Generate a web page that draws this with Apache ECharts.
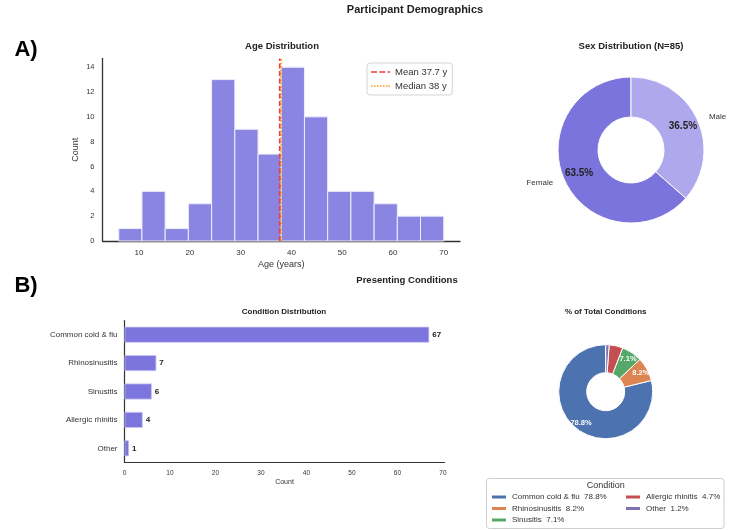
<!DOCTYPE html>
<html><head><meta charset="utf-8">
<script src="https://cdn.jsdelivr.net/npm/echarts@6/dist/echarts.min.js"></script>
<style>html,body{margin:0;padding:0;background:#fff}#c{width:740px;height:530px}</style>
</head><body><div id="c"></div>
<script>
// ---- data ----
const ageBinEdges = [6, 10.57, 15.14, 19.71, 24.29, 28.86, 33.43, 38, 42.57, 47.14, 51.71, 56.29, 60.86, 65.43, 70];
const ageCounts = [1, 4, 1, 3, 13, 9, 7, 14, 10, 4, 4, 3, 2, 2];
const meanAge = 37.7;
const medianAge = 38;
const ageTicks = [10, 20, 30, 40, 50, 60, 70];
const countTicks = [0, 2, 4, 6, 8, 10, 12, 14];

const sexNames = ['Female', 'Male'];
const sexCounts = [54, 31];

const conditionNames = ['Common cold & flu', 'Rhinosinusitis', 'Sinusitis', 'Allergic rhinitis', 'Other'];
const conditionCounts = [67, 7, 6, 4, 1];
const conditionTicks = [0, 10, 20, 30, 40, 50, 60, 70];

// ---- styles ----
const FONT = '"Liberation Sans", Arial, sans-serif';
const NARROW = '"Liberation Sans Narrow", "Liberation Sans", sans-serif';
const sexColors = ['#7b74dc', '#b0a8ec'];
const condColors = ['#4c72b0', '#dd8452', '#55a868', '#c44e52', '#8172b3'];
const condTotal = conditionCounts.reduce((a, b) => a + b, 0);
const sexTotal = sexCounts.reduce((a, b) => a + b, 0);
const pct = (v, t) => (v / t * 100).toFixed(1) + '%';
const meanName = 'Mean ' + meanAge + ' y';
const medianName = 'Median ' + medianAge + ' y';
const ageYMax = 14.7;
const dashIcon = 'path://M0,0h6v1.6h-6zM8.3,0h6v1.6h-6zM16.6,0h2.4v1.6h-2.4z';
const dotIcon = 'path://M0,0h1.6v1.6h-1.6zM3,0h1.6v1.6h-1.6zM6,0h1.6v1.6h-1.6zM9,0h1.6v1.6h-1.6zM12,0h1.6v1.6h-1.6zM15,0h1.6v1.6h-1.6zM17.4,0h1.6v1.6h-1.6z';

const chart = echarts.init(document.getElementById('c'), null, {renderer: 'canvas'});

function txt(x, y, text, size, bold, family, color) {
  return {
    type: 'text', x: x, y: y,
    style: {text: text, fontSize: size, fontWeight: bold ? 'bold' : 'normal', fontFamily: family || FONT,
      fill: color || '#222', align: 'center', verticalAlign: 'middle'}
  };
}

const option = {
  backgroundColor: '#fff',
  animation: false,
  textStyle: {fontFamily: FONT},
  graphic: [
    txt(415, 10, 'Participant Demographics', 11, true),
    txt(26, 50, 'A)', 22, true, NARROW, '#000'),
    txt(26, 286, 'B)', 22, true, NARROW, '#000'),
    txt(282, 46, 'Age Distribution', 9.5, true),
    txt(631, 46, 'Sex Distribution (N=' + sexTotal + ')', 9.5, true),
    txt(407, 280.5, 'Presenting Conditions', 9.5, true),
    txt(284, 311.5, 'Condition Distribution', 8, true),
    txt(605.7, 311.5, '% of Total Conditions', 8, true),
    {type: 'rect', shape: {x: 486.5, y: 478.5, width: 237.5, height: 50, r: 3},
      style: {fill: '#fff', stroke: '#cfcfcf', lineWidth: 1}, z: -1},
    txt(605.7, 485.5, 'Condition', 9, false, FONT, '#333')
  ],
  legend: [
    {
      data: [{name: meanName, icon: dashIcon}, {name: medianName, icon: dotIcon}],
      orient: 'vertical', left: 367, top: 63,
      padding: [4, 5, 4, 4], itemGap: 4, itemWidth: 19, itemHeight: 1.6,
      backgroundColor: '#fff', borderColor: '#d5d5d5', borderWidth: 1, borderRadius: 3,
      textStyle: {fontSize: 9.5, color: '#333', fontFamily: FONT, lineHeight: 10},
      itemStyle: {borderWidth: 0},
      selectedMode: false
    },
    {
      data: conditionNames.slice(0, 3), orient: 'vertical', left: 490, top: 492,
      padding: 0, itemGap: 1.5, itemWidth: 16, itemHeight: 5, icon: 'rect', selectedMode: false,
      textStyle: {fontSize: 8, color: '#333', lineHeight: 10, fontFamily: FONT},
      formatter: n => n + '  ' + pct(conditionCounts[conditionNames.indexOf(n)], condTotal)
    },
    {
      data: conditionNames.slice(3), orient: 'vertical', left: 624, top: 492,
      padding: 0, itemGap: 1.5, itemWidth: 16, itemHeight: 5, icon: 'rect', selectedMode: false,
      textStyle: {fontSize: 8, color: '#333', lineHeight: 10, fontFamily: FONT},
      formatter: n => n + '  ' + pct(conditionCounts[conditionNames.indexOf(n)], condTotal)
    }
  ],
  grid: [
    {left: 102.5, top: 58.5, width: 357.5, height: 182.5},
    {left: 124.5, top: 320.5, width: 320, height: 142}
  ],
  xAxis: [
    {
      type: 'value', gridIndex: 0, min: 2.8, max: 73.2,
      name: 'Age (years)', nameLocation: 'middle', nameGap: 19,
      nameTextStyle: {fontSize: 9, color: '#333'},
      axisLine: {show: true, lineStyle: {color: '#333', width: 1.3}},
      axisTick: {show: false},
      splitLine: {show: false},
      axisLabel: {customValues: ageTicks, fontSize: 8, color: '#333', margin: 8}
    },
    {
      type: 'value', gridIndex: 1, min: 0, max: 70.35,
      name: 'Count', nameLocation: 'middle', nameGap: 16,
      nameTextStyle: {fontSize: 7, color: '#333'},
      axisLine: {show: true, lineStyle: {color: '#333', width: 1.2}},
      axisTick: {show: false},
      splitLine: {show: false},
      axisLabel: {customValues: conditionTicks, fontSize: 6.5, color: '#333', margin: 7}
    }
  ],
  yAxis: [
    {
      type: 'value', gridIndex: 0, min: 0, max: ageYMax,
      name: 'Count', nameLocation: 'middle', nameGap: 22,
      nameTextStyle: {fontSize: 9, color: '#333'},
      axisLine: {show: true, lineStyle: {color: '#333', width: 1.3}},
      axisTick: {show: false},
      splitLine: {show: false},
      axisLabel: {customValues: countTicks, fontSize: 7.5, color: '#333', margin: 8}
    },
    {
      type: 'category', gridIndex: 1, data: conditionNames, inverse: true,
      axisLine: {show: true, lineStyle: {color: '#333', width: 1.2}},
      axisTick: {show: false},
      axisLabel: {fontSize: 8, color: '#333', margin: 7}
    }
  ],
  series: [
    {
      type: 'custom', xAxisIndex: 0, yAxisIndex: 0, silent: true,
      data: ageCounts.map((c, i) => [ageBinEdges[i], ageBinEdges[i + 1], c]),
      encode: {x: [0, 1], y: 2},
      renderItem: function (params, api) {
        const p0 = api.coord([api.value(0), api.value(2)]);
        const p1 = api.coord([api.value(1), 0]);
        return {type: 'rect', shape: {x: p0[0], y: p0[1], width: p1[0] - p0[0], height: p1[1] - p0[1]},
          style: {fill: '#8a84e2', stroke: '#eeeefb', lineWidth: 1}};
      }
    },
    {
      type: 'line', name: medianName, xAxisIndex: 0, yAxisIndex: 0, silent: true,
      data: [[medianAge, 0], [medianAge, ageYMax]], symbol: 'none', z: 5,
      itemStyle: {color: '#ffa31a'},
      lineStyle: {color: '#ffa31a', width: 1.7, type: [1.7, 1.7]}
    },
    {
      type: 'line', name: meanName, xAxisIndex: 0, yAxisIndex: 0, silent: true,
      data: [[meanAge, 0], [meanAge, ageYMax]], symbol: 'none', z: 6,
      itemStyle: {color: '#e8413c'},
      lineStyle: {color: '#e8413c', width: 1.7, type: [5, 2.5]}
    },
    {
      type: 'bar', xAxisIndex: 1, yAxisIndex: 1, data: conditionCounts, barWidth: 16, silent: true,
      itemStyle: {color: '#7b75dd', borderColor: '#c8c4f2', borderWidth: 0.8},
      label: {show: true, position: 'right', distance: 3, fontSize: 8, fontWeight: 'bold', color: '#222'}
    },
    {
      type: 'pie', center: [631, 150], radius: [33, 73], startAngle: 90, clockwise: false, silent: true,
      data: sexNames.map((n, i) => ({name: n, value: sexCounts[i], itemStyle: {color: sexColors[i]}})),
      itemStyle: {borderColor: '#fff', borderWidth: 1},
      label: {show: true, position: 'outside', formatter: '{b}', fontSize: 8, color: '#333'},
      labelLine: {show: false, length: 7, length2: 0},
      emphasis: {disabled: true}
    },
    {
      type: 'pie', center: [631, 150], radius: [35, 73], startAngle: 90, clockwise: false, silent: true,
      data: sexNames.map((n, i) => ({name: n, value: sexCounts[i]})),
      itemStyle: {color: 'rgba(0,0,0,0)'},
      label: {show: true, position: 'inside', fontSize: 10, fontWeight: 'bold', color: '#222',
        formatter: p => pct(p.value, sexTotal)},
      emphasis: {disabled: true}
    },
    {
      type: 'pie', center: [605.7, 391.7], radius: [19, 47], startAngle: 90, clockwise: false, silent: true,
      data: conditionNames.map((n, i) => ({name: n, value: conditionCounts[i], itemStyle: {color: condColors[i]}})),
      itemStyle: {borderColor: '#fff', borderWidth: 1},
      label: {show: false},
      emphasis: {disabled: true}
    },
    {
      type: 'pie', center: [605.7, 391.7], radius: [27, 47], startAngle: 90, clockwise: false, silent: true,
      data: conditionNames.map((n, i) => ({name: n, value: conditionCounts[i]})),
      itemStyle: {color: 'rgba(0,0,0,0)'},
      label: {show: true, position: 'inside', fontSize: 7.5, fontWeight: 'bold', color: '#fff',
        formatter: p => (p.value / condTotal < 0.02 ? '' : pct(p.value, condTotal))},
      emphasis: {disabled: true}
    }
  ]
};
chart.setOption(option);
</script>
</body></html>
